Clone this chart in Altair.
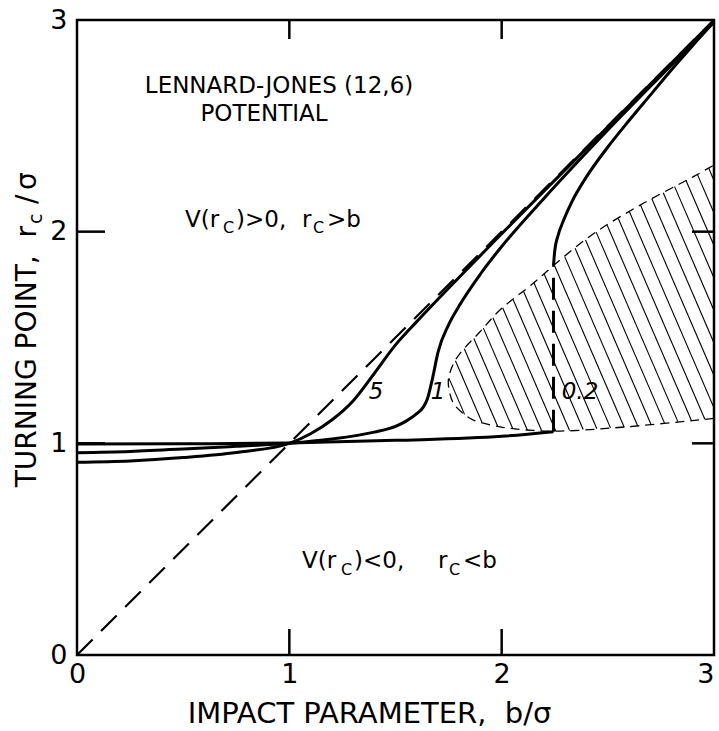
import altair as alt
import pandas as pd

# ---------------- data ----------------
# E* = 5 curve (turning point vs impact parameter)
E5_B = [0.0, 0.25, 0.5, 0.75, 1.0, 1.1, 1.2, 1.3, 1.4, 1.5, 1.6, 1.8, 2.0, 2.5, 3.0]
E5_R = [0.911, 0.917, 0.933, 0.957, 1.0, 1.045, 1.11, 1.20, 1.33, 1.465, 1.575, 1.785, 1.99, 2.495, 2.998]

# E* = 1 curve
E1_B = [0.0, 0.25, 0.5, 0.75, 1.0, 1.2, 1.4, 1.5, 1.55, 1.6, 1.63, 1.65, 1.675, 1.7, 1.75, 1.8, 1.9, 2.0, 2.2, 2.5, 2.8, 3.0]
E1_R = [0.956, 0.962, 0.973, 0.986, 1.0, 1.02, 1.053, 1.08, 1.105, 1.14, 1.17, 1.21, 1.31, 1.43, 1.56, 1.65, 1.80, 1.93, 2.158, 2.48, 2.788, 2.993]

# E* = 0.2 curve: inner branch, outer branch, and the orbiting jump
E02_LOW_B = [0.0, 0.5, 1.0, 1.5, 2.0, 2.244]
E02_LOW_R = [0.997, 0.998, 1.002, 1.014, 1.033, 1.055]
E02_UP_B = [2.244, 2.25, 2.265, 2.29, 2.33, 2.40, 2.50, 2.60, 2.70, 2.80, 2.90, 3.0]
E02_UP_R = [1.84, 1.91, 1.98, 2.05, 2.14, 2.26, 2.40, 2.525, 2.645, 2.765, 2.88, 2.99]
JUMP_B = [2.244, 2.244]
JUMP_R = [1.055, 1.84]

# r_c = b diagonal
DIAG_B = [0.0, 3.0]
DIAG_R = [0.0, 3.0]

# hatched (orbiting) lobe boundary
LOBE_UP_B = [1.749, 1.77, 1.804, 1.898, 1.992, 2.149, 2.244, 2.432, 2.667, 2.903, 3.0]
LOBE_UP_R = [1.30, 1.37, 1.425, 1.527, 1.63, 1.756, 1.84, 1.99, 2.134, 2.26, 2.315]
LOBE_LOW_B = [1.749, 1.755, 1.773, 1.82, 1.867, 1.992, 2.118, 2.275, 2.589, 3.0]
LOBE_LOW_R = [1.30, 1.24, 1.189, 1.14, 1.11, 1.078, 1.063, 1.058, 1.078, 1.118]

AXIS_VALUES = [0, 1, 2, 3]
INNER_TICKS = [1, 2]

CURVE_LABELS = ["5", "1", "0.2"]
CURVE_LABEL_B = [1.408, 1.700, 2.369]
CURVE_LABEL_R = [1.242, 1.242, 1.242]

HEAD_TEXT = ["LENNARD-JONES (12,6)", "POTENTIAL"]
HEAD_B = [0.9515, 0.8808]
HEAD_R = [2.655, 2.522]

REG_TEXT = ["V(r", "C", ")>0,", "r", "C", ">b", "V(r", "C", ")<0,", "r", "C", "<b"]
REG_B = [0.5087, 0.6877, 0.7489, 1.0598, 1.1116, 1.1776, 1.0598, 1.2435, 1.3048, 1.7004, 1.7522, 1.8182]
REG_R = [2.022, 1.993, 2.022, 2.022, 1.993, 2.022, 0.411, 0.378, 0.411, 0.411, 0.378, 0.411]
REG_SIZE = [23, 16, 23, 23, 16, 23, 23, 16, 23, 23, 16, 23]

NB = "\u00a0"
X_TITLE = "IMPACT PARAMETER," + NB + NB + "b/σ"
Y_TITLE_MAIN = "TURNING POINT," + NB + NB + "r"
Y_TITLE_SUB = "c"

# ---------------- layout ----------------
W, H = 637, 635
PAD = {"left": 77, "top": 20, "right": 5, "bottom": 76}
FONT = "DejaVu Sans"

xs = alt.Scale(domain=[0, 3], nice=False, zero=False)
ys = alt.Scale(domain=[0, 3], nice=False, zero=False)

AX = alt.Axis(
    values=AXIS_VALUES, ticks=False, domain=False, grid=False,
    labelFont=FONT, labelFontSize=27, labelColor="black", labelPadding=6,
    labelFlush=False, format="d",
    labelAlign={"condition": {"test": "datum.value === 3", "value": "right"}, "value": "center"},
    title=X_TITLE, titleFont=FONT, titleFontSize=29,
    titleFontWeight="normal", titleColor="black", titleX=292, titleY=67,
    titleAlign="center", titleBaseline="alphabetic",
)
AY = alt.Axis(
    values=AXIS_VALUES, ticks=False, domain=False, grid=False,
    labelFont=FONT, labelFontSize=27, labelColor="black", labelPadding=10,
    labelFlush=False, format="d", labelBaseline="middle",
    title=" ",
)


def X(field):
    return alt.X(field, scale=xs, axis=AX)


def Y(field):
    return alt.Y(field, scale=ys, axis=AY)


def curve_df(bs, rs):
    return pd.DataFrame({"b": bs, "r": rs, "o": list(range(len(bs)))})


def line(df, dash=None, width=3.0, interp="monotone"):
    kw = dict(color="black", strokeWidth=width, interpolate=interp, clip=True)
    if dash is not None:
        kw["strokeDash"] = dash
    return alt.Chart(df).mark_line(**kw).encode(x=X("b:Q"), y=Y("r:Q"), order="o:Q")


# hatch lines inside the lobe polygon
def hatch(poly_b, poly_r, k=0.43, step=0.066):
    n = len(poly_b)
    f = [b + k * r for b, r in zip(poly_b, poly_r)]
    c = min(f) + step * 0.45
    rows = []
    while c < max(f):
        pts = []
        for j in range(n):
            b1, r1 = poly_b[j], poly_r[j]
            b2, r2 = poly_b[(j + 1) % n], poly_r[(j + 1) % n]
            f1 = b1 + k * r1 - c
            f2 = b2 + k * r2 - c
            if (f1 < 0) != (f2 < 0):
                t = f1 / (f1 - f2)
                pts.append((b1 + t * (b2 - b1), r1 + t * (r2 - r1)))
        pts.sort(key=lambda p: p[1])
        for a in range(0, len(pts) - 1, 2):
            rows.append({"b": pts[a][0], "r": pts[a][1], "b2": pts[a + 1][0], "r2": pts[a + 1][1]})
        c += step
    return pd.DataFrame(rows)


poly_b = LOBE_UP_B + LOBE_LOW_B[::-1][:-1]
poly_r = LOBE_UP_R + LOBE_LOW_R[::-1][:-1]
hatch_df = hatch(poly_b, poly_r)

hatch_layer = alt.Chart(hatch_df).mark_rule(color="black", strokeWidth=1.1, clip=True).encode(
    x=X("b:Q"), y=Y("r:Q"), x2="b2:Q", y2="r2:Q",
)

lobe_b = LOBE_LOW_B[::-1] + LOBE_UP_B[1:]
lobe_r = LOBE_LOW_R[::-1] + LOBE_UP_R[1:]
lobe_layer = line(curve_df(lobe_b, lobe_r), dash=[9, 6], width=1.3, interp="catmull-rom")

diag = line(curve_df(DIAG_B, DIAG_R), dash=[22, 12], width=2.2, interp="linear")
e5 = line(curve_df(E5_B, E5_R))
e1 = line(curve_df(E1_B, E1_R))
e02a = line(curve_df(E02_LOW_B, E02_LOW_R))
e02b = line(curve_df(E02_UP_B, E02_UP_R))
jump = line(curve_df(JUMP_B, JUMP_R), dash=[22, 11], width=3.0, interp="linear")

tick_df = pd.DataFrame({"v": INNER_TICKS})
tick_kw = dict(color="black", strokeWidth=2.5)
t_bottom = alt.Chart(tick_df).mark_rule(**tick_kw).encode(
    x=X("v:Q"), y=alt.value(H), y2=alt.value(H - 26))
t_top = alt.Chart(tick_df).mark_rule(**tick_kw).encode(
    x=X("v:Q"), y=alt.value(0), y2=alt.value(19))
t_left = alt.Chart(tick_df).mark_rule(**tick_kw).encode(
    y=Y("v:Q"), x=alt.value(0), x2=alt.value(28))
t_right = alt.Chart(tick_df).mark_rule(**tick_kw).encode(
    y=Y("v:Q"), x=alt.value(W), x2=alt.value(W - 22))

lab_df = pd.DataFrame({"t": CURVE_LABELS, "b": CURVE_LABEL_B, "r": CURVE_LABEL_R})
curve_labels = alt.Chart(lab_df).mark_text(
    font=FONT, fontSize=23, fontStyle="italic", color="black", align="center", baseline="middle"
).encode(x=X("b:Q"), y=Y("r:Q"), text="t:N")

head_df = pd.DataFrame({"t": HEAD_TEXT, "b": HEAD_B, "r": HEAD_R})
head = alt.Chart(head_df).mark_text(
    font=FONT, fontSize=23, color="black", align="center", baseline="alphabetic"
).encode(x=X("b:Q"), y=Y("r:Q"), text="t:N")

reg_df = pd.DataFrame({"t": REG_TEXT, "b": REG_B, "r": REG_R, "s": REG_SIZE})
reg = alt.Chart(reg_df).mark_text(
    font=FONT, color="black", align="left", baseline="alphabetic"
).encode(
    x=X("b:Q"), y=Y("r:Q"), text="t:N", size=alt.Size("s:Q", scale=None, legend=None),
)


def ytext(txt, px, py, size, align):
    return alt.Chart(pd.DataFrame({"t": [txt]})).mark_text(
        font=FONT, fontSize=size, color="black", angle=270, align=align, baseline="alphabetic"
    ).encode(x=alt.value(px - PAD["left"]), y=alt.value(py - PAD["top"]), text="t:N")


yt_main = ytext(Y_TITLE_MAIN, 36, 226, 28, "right")
yt_sub = ytext(Y_TITLE_SUB, 42, 224, 19, "left")
yt_slash = ytext("/", 36, 204, 28, "left")
yt_sigma = ytext("σ", 36, 190, 28, "left")

chart = alt.layer(
    diag, hatch_layer, lobe_layer, e5, e1, e02a, e02b, jump,
    t_bottom, t_top, t_left, t_right,
    curve_labels, head, reg, yt_main, yt_sub, yt_slash, yt_sigma,
).properties(
    width=W, height=H, padding=PAD, autosize=alt.AutoSizeParams(type="none"),
    background="white",
).configure_view(stroke="black", strokeWidth=2.5)

chart.save("out.html", embed_options={"renderer": "svg", "actions": False})
